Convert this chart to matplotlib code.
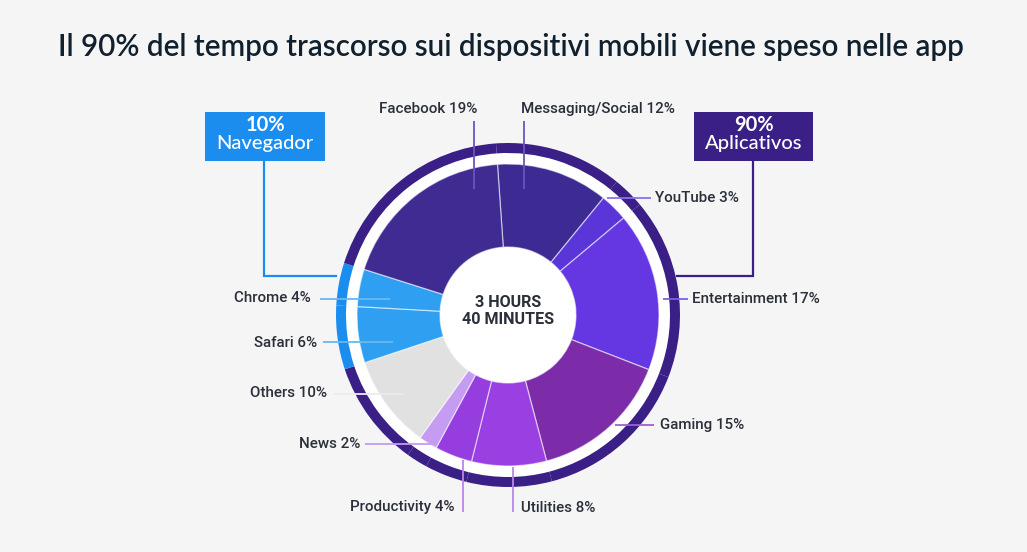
import matplotlib
matplotlib.use("Agg")
import matplotlib.pyplot as plt
import numpy as np

# ---- data ----
categories = ["Messaging/Social", "YouTube", "Entertainment", "Gaming", "Utilities",
              "Productivity", "News", "Others", "Safari", "Chrome", "Facebook"]
shares = [12, 3, 17, 15, 8, 4, 2, 10, 6, 4, 19]
groups = ["app", "app", "app", "app", "app", "app", "app", "app", "browser", "browser", "app"]
group_labels = {"browser": ("10%", "Navegador"), "app": ("90%", "Aplicativos")}
center_text = "3 HOURS\n40 MINUTES"
title = "Il 90% del tempo trascorso sui dispositivi mobili viene speso nelle app"

# ---- styles ----
slice_colors = ["#3d2b93", "#5a36d8", "#6537e2", "#7c2ba9", "#9a40e2",
                "#963ddf", "#c59cf1", "#e1e1e1", "#2e9ff1", "#2e9ff1", "#3f2b91"]
line_colors = ["#6a55c0", "#8d70ea", "#7d62e4", "#a060cc", "#b886ec",
               "#b886ec", "#c59cf1", "#ececec", "#66baf5", "#66baf5", "#6a55c0"]
group_colors = {"app": "#3a1f86", "browser": "#1b8def"}
BG = "#f5f5f5"
W, H = 1027, 552

fig = plt.figure(figsize=(W / 100, H / 100), dpi=100, facecolor=BG)
ax = fig.add_axes([0, 0, 1, 1])
ax.set_xlim(0, W)
ax.set_ylim(0, H)
ax.set_aspect("equal")
ax.axis("off")
ax.set_facecolor(BG)

def Y(y):
    return H - y

cx, cy = 508, Y(315)
start = 94

# white disc inside the ring
ax.add_patch(plt.Circle((cx, cy), 163, facecolor="white", edgecolor="none", zorder=0.5))

# outer group ring
ax.pie(shares, colors=[group_colors[g] for g in groups], radius=172, center=(cx, cy),
       startangle=start, counterclock=False, frame=True,
       wedgeprops=dict(width=10, linewidth=0))
# main donut
ax.pie(shares, colors=slice_colors, radius=151, center=(cx, cy),
       startangle=start, counterclock=False, frame=True,
       wedgeprops=dict(width=83, linewidth=0.9, edgecolor=(1, 1, 1, 0.55)))
ax.set_xlim(0, W)
ax.set_ylim(0, H)
ax.axis("off")

font = ["Roboto", "DejaVu Sans"]
lab_kw = dict(fontsize=10.9, color="#2b2f3a", family=font, fontweight="medium", va="center")

# label layout: (text x, text y, ha, line points)
layout = {
    "Facebook": (428, 109, "center", [(474, 121), (474, 189)]),
    "Messaging/Social": (521, 109, "left", [(524, 121), (524, 189)]),
    "YouTube": (655, 198, "left", [(607, 198), (651, 198)]),
    "Entertainment": (692, 299, "left", [(663, 299), (688, 299)]),
    "Gaming": (660, 425, "left", [(615, 425), (654, 425)]),
    "Utilities": (521, 508, "left", [(513, 467), (513, 512)]),
    "Productivity": (455, 507, "right", [(463, 460), (463, 512)]),
    "News": (360, 444, "right", [(365, 444), (437, 444)]),
    "Others": (327, 393, "right", [(334, 394), (404, 394)]),
    "Safari": (317, 343, "right", [(323, 342), (393, 342)]),
    "Chrome": (311, 298, "right", [(320, 299), (390, 299)]),
}
for cat, val, lc in zip(categories, shares, line_colors):
    tx, ty, ha, pts = layout[cat]
    xs = [p[0] for p in pts]
    ys = [Y(p[1]) for p in pts]
    ax.plot(xs, ys, color=lc, lw=1.3, solid_capstyle="butt", zorder=5)
    ax.text(tx, Y(ty), f"{cat} {val}%", ha=ha, **lab_kw)

# center text
ax.text(cx, Y(311), center_text, ha="center", va="center", fontsize=11.6,
        fontweight="bold", color="#2b2f3a", family=font, linespacing=1.2)

# group boxes with connectors
box_layout = {
    "browser": dict(x0=205, x1=325, cx=264, conn=[(264, 161), (264, 276), (336, 276)]),
    "app": dict(x0=694, x1=813, cx=753, conn=[(753, 161), (753, 276), (677, 276)]),
}
for g, bl in box_layout.items():
    col = group_colors[g]
    ax.add_patch(plt.Rectangle((bl["x0"], Y(161)), bl["x1"] - bl["x0"], 49,
                               facecolor=col, edgecolor="none", zorder=6))
    top, bottom = group_labels[g]
    ax.text((bl["x0"] + bl["x1"]) / 2, Y(125), top, ha="center", va="center",
            color="white", fontsize=14.5, family=["Lato", "DejaVu Sans"], fontweight="bold", zorder=7)
    ax.text((bl["x0"] + bl["x1"]) / 2, Y(144), bottom, ha="center", va="center",
            color="white", fontsize=14.5, family=["Lato", "DejaVu Sans"], fontweight="medium", zorder=7)
    xs = [p[0] for p in bl["conn"]]
    ys = [Y(p[1]) for p in bl["conn"]]
    ax.plot(xs, ys, color=col, lw=1.6, zorder=4, solid_joinstyle="miter")

# title
ax.text(511, Y(47), title, ha="center", va="center", fontsize=21.3,
        color="#10202e", family=["Lato", "DejaVu Sans"], fontweight="semibold")

fig.savefig("out.png", dpi=100, facecolor=BG)
